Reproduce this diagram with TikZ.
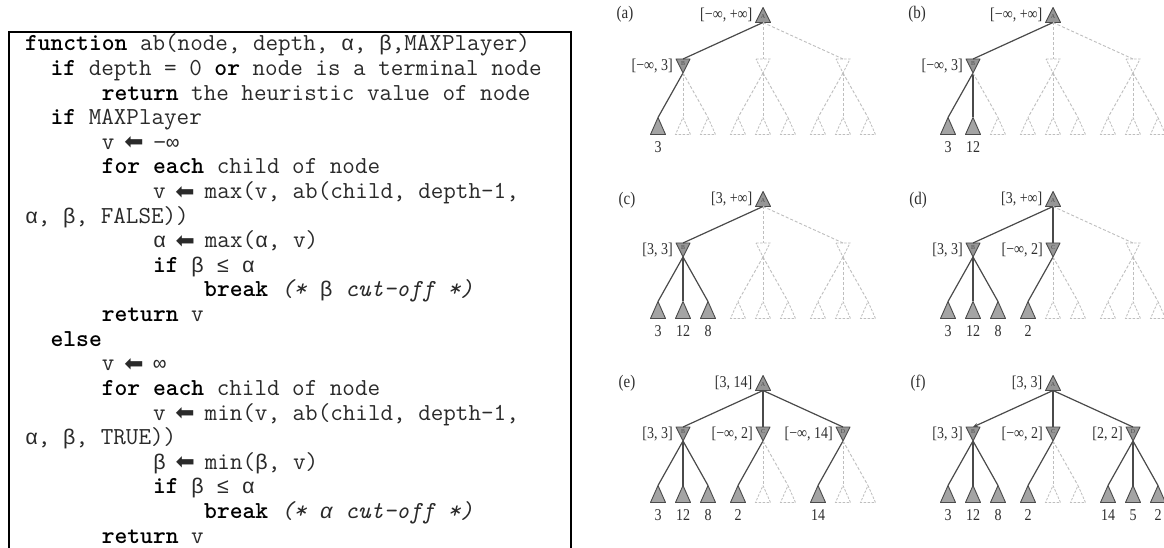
\documentclass[tikz,border=0pt]{standalone}
\usepackage{fontspec}
\usepackage{graphicx}
\setmainfont{Liberation Serif}
\newfontfamily\grfont{Liberation Mono}
\newfontfamily\arrfont{DejaVu Sans}
\usetikzlibrary{calc,arrows.meta}
\definecolor{nodefill}{HTML}{969696}
\definecolor{leaffill}{HTML}{A4A4A4}
\definecolor{outl}{HTML}{4A4A4A}
\definecolor{dashc}{HTML}{BEBEBE}
\definecolor{txtc}{HTML}{2E2E2E}
\definecolor{codec}{HTML}{2A2A2A}
\newcommand\arr{\makebox[14bp]{\arrfont\fontsize{23bp}{23bp}\selectfont\raisebox{-0.5bp}{⬅}}}
\newcommand\gr[1]{{\grfont\fontsize{21.3bp}{24bp}\selectfont #1}}
\newcommand\kw[1]{\textcolor{black}{\textbf{#1}}}
\newcommand\tall[1]{\scalebox{1}[1.18]{#1}}
\tikzset{
  code/.style={anchor=base west, inner sep=0pt, outer sep=0pt, text=codec,
    font=\ttfamily\fontsize{24.4bp}{24bp}\selectfont},
  maxn/.style={minimum width=15bp, minimum height=15bp, inner sep=0pt, outer sep=0pt,
    append after command={\pgfextra{\filldraw[fill=nodefill, draw=outl, line width=0.9bp, line join=round]
      (\tikzlastnode.north) -- (\tikzlastnode.south east) -- (\tikzlastnode.south west) -- cycle;}}},
  minn/.style={minimum width=14bp, minimum height=14bp, inner sep=0pt, outer sep=0pt,
    append after command={\pgfextra{\filldraw[fill=nodefill, draw=outl, line width=0.9bp, line join=round]
      (\tikzlastnode.north west) -- (\tikzlastnode.north east) -- (\tikzlastnode.south) -- cycle;}}},
  minnd/.style={minimum width=14bp, minimum height=14bp, inner sep=0pt, outer sep=0pt,
    append after command={\pgfextra{\draw[dashc, line width=0.8bp, dash pattern=on 2.5bp off 1.5bp]
      (\tikzlastnode.north west) -- (\tikzlastnode.north east) -- (\tikzlastnode.south) -- cycle;}}},
  leaf/.style={minimum width=15bp, minimum height=17bp, inner sep=0pt, outer sep=0pt,
    append after command={\pgfextra{\filldraw[fill=leaffill, draw=outl, line width=0.9bp, line join=round]
      (\tikzlastnode.north) -- (\tikzlastnode.south east) -- (\tikzlastnode.south west) -- cycle;}}},
  leafd/.style={minimum width=15bp, minimum height=17bp, inner sep=0pt, outer sep=0pt,
    append after command={\pgfextra{\draw[dashc, line width=0.8bp, dash pattern=on 2.5bp off 1.5bp]
      (\tikzlastnode.north) -- (\tikzlastnode.south east) -- (\tikzlastnode.south west) -- cycle;}}},
  letup/.style={inner sep=0pt, text=black!70, yshift=-2bp, font=\fontsize{6bp}{6bp}\selectfont},
  letdown/.style={inner sep=0pt, text=black!70, yshift=2bp, font=\fontsize{6bp}{6bp}\selectfont},
  sedge/.style={outl, line width=1.2bp},
  dedge/.style={dashc, line width=0.9bp, dash pattern=on 3bp off 2bp},
  edgeB/.style={}, edgeC/.style={}, edgeD/.style={},
  blab/.style={anchor=east, xshift=-3bp, inner sep=0pt, text=txtc, font=\fontsize{14bp}{14bp}\selectfont},
  val/.style={inner sep=0pt, text=txtc, font=\fontsize{14bp}{14bp}\selectfont},
  plab/.style={inner sep=0pt, text=txtc, font=\fontsize{15bp}{15bp}\selectfont},
}
\newcommand\abtree[6]{%
  \node[maxn, label={[letup]center:A}] (#1A) at (#2,#3) {};
  \foreach \g/\n/\dx in {B/#4/-80, C/#5/0, D/#6/80} {
    \ifnum\n>0
      \node[minn, label={[letdown]center:\g}] (#1\g) at ({#2+\dx},{#3+51}) {};
      \draw[sedge, edge\g] (#1A.south) -- (#1\g.north);
    \else
      \node[minnd] (#1\g) at ({#2+\dx},{#3+51}) {};
      \draw[dedge] (#1A.south) -- (#1\g.north);
    \fi
    \foreach \k/\lx in {1/-25, 2/0, 3/25} {
      \ifnum\k>\n
        \node[leafd] (#1\g\k) at ({#2+\dx+\lx},{#3+111}) {};
        \draw[dedge] (#1\g.south) -- (#1\g\k.north);
      \else
        \node[leaf] (#1\g\k) at ({#2+\dx+\lx},{#3+111}) {};
        \draw[sedge] (#1\g.south) -- (#1\g\k.north);
      \fi
    }
  }
}
\begin{document}
\begin{tikzpicture}[x=1bp, y=-1bp]
\useasboundingbox (0,0) rectangle (1164,548);
\clip (0,0) rectangle (1164,548);
\fill[white] (0,0) rectangle (1164,548);

% code box
\draw[line width=2bp] (9,560) -- (9,32) -- (571,32) -- (571,560);
\node[code] (l1) at (25,51) {\kw{function} ab(node, depth, \gr{α}, \gr{β},MAXPlayer)};
\node[code] (l2) at (50.6,75.6) {\kw{if} depth = 0 \kw{or} node is a terminal node};
\node[code] (l3) at (101.8,100.2) {\kw{return} the heuristic value of node};
\node[code] (l4) at (50.6,124.8) {\kw{if} MAXPlayer};
\node[code] (l5) at (101.8,149.4) {v \arr{} \gr{−∞}};
\node[code] (l6) at (101.8,174) {\kw{for each} child of node};
\node[code] (l7) at (153,198.6) {v \arr{} max(v, ab(child, depth-1,};
\node[code] (l8) at (25,223.2) {\gr{α}, \gr{β}, FALSE))};
\node[code] (l9) at (153,247.8) {\gr{α} \arr{} max(\gr{α}, v)};
\node[code] (l10) at (153,272.4) {\kw{if} \gr{β} \gr{≤} \gr{α}};
\node[code] (l11) at (204.2,297) {\kw{break} \textit{(*} \gr{β} \textit{cut-off *)}};
\node[code] (l12) at (101.8,321.6) {\kw{return} v};
\node[code] (l13) at (50.6,346.2) {\kw{else}};
\node[code] (l14) at (101.8,370.8) {v \arr{} \gr{∞}};
\node[code] (l15) at (101.8,395.4) {\kw{for each} child of node};
\node[code] (l16) at (153,420) {v \arr{} min(v, ab(child, depth-1,};
\node[code] (l17) at (25,444.6) {\gr{α}, \gr{β}, TRUE))};
\node[code] (l18) at (153,469.2) {\gr{β} \arr{} min(\gr{β}, v)};
\node[code] (l19) at (153,493.8) {\kw{if} \gr{β} \gr{≤} \gr{α}};
\node[code] (l20) at (204.2,518.4) {\kw{break} \textit{(*} \gr{\itshape α} \textit{cut-off *)}};
\node[code] (l21) at (101.8,543) {\kw{return} v};

% trees
\abtree{a}{763}{15}{1}{0}{0}
\abtree{b}{1053}{15}{2}{0}{0}
\abtree{c}{763}{199}{3}{0}{0}
\abtree{d}{1053}{199}{3}{1}{0}
\abtree{e}{763}{383}{3}{1}{1}
\begin{scope}[edgeB/.style={-{Stealth[length=5bp, width=4bp]}}]
\abtree{f}{1053}{383}{3}{1}{3}
\end{scope}

% panel letters
\node[plab] (pa) at (625,14) {\tall{(a)}};
\node[plab] (pb) at (917,14) {\tall{(b)}};
\node[plab] (pc) at (627,200) {\tall{(c)}};
\node[plab] (pd) at (918,200) {\tall{(d)}};
\node[plab] (pe) at (627,383) {\tall{(e)}};
\node[plab] (pf) at (918,383) {\tall{(f)}};

% interval labels
\foreach \nd/\t in {aA/{[−∞, +∞]}, aB/{[−∞, 3]}, bA/{[−∞, +∞]}, bB/{[−∞, 3]},
  cA/{[3, +∞]}, cB/{[3, 3]}, dA/{[3, +∞]}, dB/{[3, 3]}, dC/{[−∞, 2]},
  eA/{[3, 14]}, eB/{[3, 3]}, eC/{[−∞, 2]}, eD/{[−∞, 14]},
  fA/{[3, 3]}, fB/{[3, 3]}, fC/{[−∞, 2]}, fD/{[2, 2]}}
  {\node[blab] (l\nd) at (\nd.west) {\tall{\t}};}

% leaf values
\foreach \nd/\t in {aB1/3, bB1/3, bB2/12, cB1/3, cB2/12, cB3/8,
  dB1/3, dB2/12, dB3/8, dC1/2, eB1/3, eB2/12, eB3/8, eC1/2, eD1/14,
  fB1/3, fB2/12, fB3/8, fC1/2, fD1/14, fD2/5, fD3/2}
  {\node[val] (v\nd) at ($(\nd)+(0,21)$) {\tall{\t}};}
\end{tikzpicture}
\end{document}
